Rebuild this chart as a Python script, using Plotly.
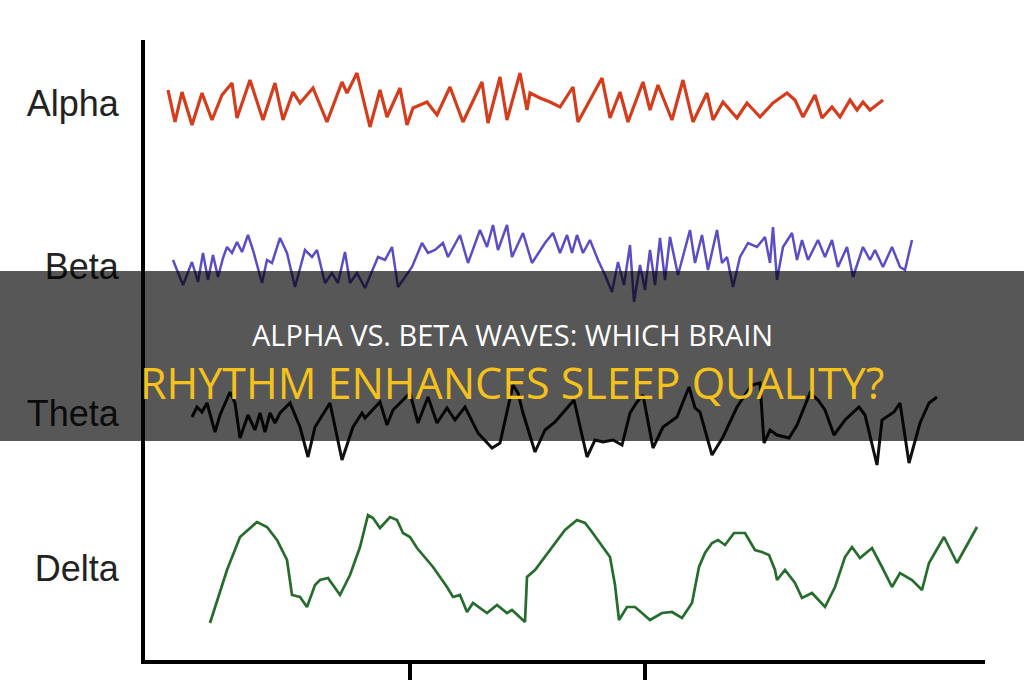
import plotly.graph_objects as go

# ---- data (x: time position, y: vertical trace position) ----
wave_names = ["Alpha", "Beta", "Theta", "Delta"]
label_pos = [103, 266, 413, 568]
time_ticks = [410, 645]

alpha_x = [168,175,182,192,202,212,222,232,237,250,263,275,283,293,300,313,327,342,347,357,
           370,380,387,400,407,413,427,437,450,463,482,488,500,507,520,527,530,540,550,560,
           573,578,590,602,610,620,628,643,650,658,672,683,693,707,713,723,737,747,760,773,
           787,795,803,815,822,832,840,850,857,863,870,883]
alpha_y = [90,122,92,125,93,120,95,83,118,80,120,83,120,92,103,88,122,82,93,73,
           127,90,117,88,125,108,102,115,87,122,82,123,77,120,73,110,93,98,102,107,
           87,122,100,78,118,92,122,82,110,85,120,80,122,93,120,102,118,103,117,103,
           93,100,117,95,118,107,117,100,110,102,110,100]

beta_x = [173,183,192,198,203,208,213,218,223,227,232,237,242,248,253,262,267,272,280,287,
          295,305,312,317,325,332,338,345,350,357,365,378,385,392,398,412,422,428,435,443,
          448,460,468,480,487,493,498,507,512,523,532,545,553,560,567,572,577,583,590,598,
          605,612,618,624,630,634,640,645,650,655,660,665,670,678,690,695,702,708,717,722,
          727,733,740,748,757,765,770,773,777,783,792,797,802,808,818,825,832,838,847,853,
          863,870,875,883,892,900,905,912]
beta_y = [260,285,262,282,253,280,255,277,258,247,253,242,252,235,250,283,260,263,238,253,
          287,250,257,250,283,273,283,252,283,273,288,257,260,247,287,267,243,253,250,243,
          257,235,263,230,247,225,250,225,257,233,263,243,233,253,235,253,235,253,240,260,
          275,292,262,285,245,302,265,290,250,285,238,280,237,275,230,263,235,270,230,263,
          257,287,257,243,247,237,263,227,280,247,233,260,240,260,240,257,240,267,247,277,
          247,260,250,267,247,267,270,240]

theta_x = [192,197,202,207,215,220,230,235,240,248,255,260,265,270,275,280,290,300,308,315,
           330,342,353,362,365,380,387,393,410,418,428,437,447,455,465,478,492,500,513,518,
           523,535,545,555,574,587,595,603,613,622,630,637,643,653,663,677,689,695,700,712,
           723,737,745,752,760,764,770,777,789,797,810,818,825,834,845,859,865,877,882,894,
           900,909,920,929,937]
theta_y = [417,407,412,403,432,415,392,403,438,415,430,413,432,413,423,413,403,427,457,427,
           403,460,427,413,418,402,425,410,393,423,397,423,408,420,407,433,448,443,385,393,
           413,452,430,422,400,457,440,442,440,445,413,402,395,448,427,417,387,408,412,455,
           437,407,395,385,383,443,430,435,438,425,393,400,410,435,420,407,415,465,420,412,
           403,463,423,403,397]

delta_x = [210,220,227,240,257,267,277,287,292,300,307,315,320,328,340,350,360,368,373,380,
           390,397,403,410,417,433,447,453,460,467,473,487,497,507,512,525,527,535,552,565,
           577,585,592,600,610,615,619,627,635,642,650,662,672,682,692,699,705,712,718,725,
           734,745,755,762,769,775,777,785,795,802,812,825,835,845,852,860,872,882,892,900,
           912,922,929,944,957,977]
delta_y = [623,592,570,537,522,527,540,560,595,597,607,585,580,578,595,575,547,515,518,528,
           517,520,533,537,548,567,587,597,595,612,603,613,605,613,610,622,577,570,547,530,
           520,523,532,543,557,585,620,607,607,613,620,613,612,618,603,567,553,543,540,545,
           533,533,550,552,555,570,580,570,583,598,593,607,587,557,547,558,548,567,587,573,
           580,590,563,537,563,527]

title_line1 = "ALPHA VS. BETA WAVES: WHICH BRAIN"
title_line2 = "RHYTHM ENHANCES SLEEP QUALITY?"

series = [
    (wave_names[0], alpha_x, alpha_y, "#d43c1c", 3.2),
    (wave_names[1], beta_x, beta_y, "#5a4ec6", 2.5),
    (wave_names[2], theta_x, theta_y, "#111111", 3.0),
    (wave_names[3], delta_x, delta_y, "#266c2d", 2.7),
]

fig = go.Figure()
for name, xs, ys, col, w in series:
    fig.add_trace(go.Scatter(x=xs, y=ys, mode="lines", name=name,
                             line=dict(color=col, width=w), hoverinfo="skip"))

W, H = 1024, 680
ml, mr, mt, mb = 145, 39, 40, 20
pw = W - ml - mr

fig.update_layout(
    width=W, height=H,
    margin=dict(l=ml, r=mr, t=mt, b=mb, pad=0),
    paper_bgcolor="white", plot_bgcolor="white",
    showlegend=False,
    xaxis=dict(range=[145, 985], showgrid=False, zeroline=False, automargin=False,
               showline=True, linecolor="black", linewidth=4,
               tickvals=time_ticks, ticks="outside", ticklen=20, tickwidth=4,
               tickcolor="black", showticklabels=False, fixedrange=True),
    yaxis=dict(range=[660, 40], showgrid=False, zeroline=False, automargin=False,
               showline=True, linecolor="black", linewidth=4,
               tickvals=label_pos, ticktext=wave_names,
               ticks="outside", ticklen=15, tickcolor="rgba(0,0,0,0)",
               tickfont=dict(family="Liberation Sans, Arial", size=36, color="#222222"),
               fixedrange=True),
    shapes=[dict(type="rect", xref="paper", yref="y",
                 x0=-ml / pw, x1=(W - ml) / pw, y0=271, y1=441,
                 fillcolor="rgba(0,0,0,0.66)", line=dict(width=0), layer="above")],
    annotations=[
        dict(text=title_line1, xref="paper", yref="y", x=(512 - ml) / pw, y=334,
             xanchor="center", yanchor="middle", showarrow=False,
             font=dict(family="Open Sans", size=29, color="white")),
        dict(text=title_line2, xref="paper", yref="y", x=(512 - ml) / pw, y=382,
             xanchor="center", yanchor="middle", showarrow=False,
             font=dict(family="Open Sans", size=43, color="#f5c21b")),
    ],
)

fig.write_html("out.html", config={"displayModeBar": False})
